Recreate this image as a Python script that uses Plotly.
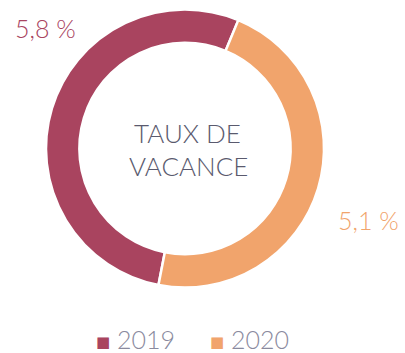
import plotly.graph_objects as go

# Taux de vacance par année
years = ["2019", "2020"]
rates = [5.8, 5.1]
rate_labels = ["5,8 %", "5,1 %"]
center_lines = ["TAUX DE", "VACANCE"]
colors = ["#A9445F", "#F1A46C"]

W, H = 405, 353
cx, cy, r = 185, 148.5, 139

fig = go.Figure(go.Pie(
    labels=years,
    values=rates,
    hole=0.76,
    sort=False,
    direction="clockwise",
    rotation=191,
    textinfo="none",
    hoverinfo="label+value",
    showlegend=False,
    marker=dict(colors=colors, line=dict(color="white", width=2.5)),
    domain=dict(x=[(cx - r) / W, (cx + r) / W],
                y=[1 - (cy + r) / H, 1 - (cy - r) / H]),
))

font = "Lato, 'Open Sans', sans-serif"


def label(text, x, y, size, color, anchor="center", family=font, weight=300):
    fig.add_annotation(x=x / W, y=1 - y / H, xref="paper", yref="paper",
                       xanchor=anchor, yanchor="middle", borderpad=0,
                       text=text, showarrow=False,
                       font=dict(family=family, size=size, color=color, weight=weight))


# centre title
label(center_lines[0], 187, 133, 26, "#5A5A6E")
label(center_lines[1], 188, 166, 26, "#5A5A6E")

# value labels
label(rate_labels[0], 45, 28, 25, colors[0])
label(rate_labels[1], 368, 220, 25, colors[1])

# legend: coloured square + year
legend_x = [103, 217]
for year, col, lx in zip(years, colors, legend_x):
    label("■", lx, 342, 15, col, family="DejaVu Sans", weight=400)
    label(year, lx + 13, 339, 25, "#8A8A9E", anchor="left")

fig.update_layout(
    width=W, height=H,
    margin=dict(l=0, r=0, t=0, b=0),
    paper_bgcolor="white",
    plot_bgcolor="white",
)

fig.write_html("out.html")
